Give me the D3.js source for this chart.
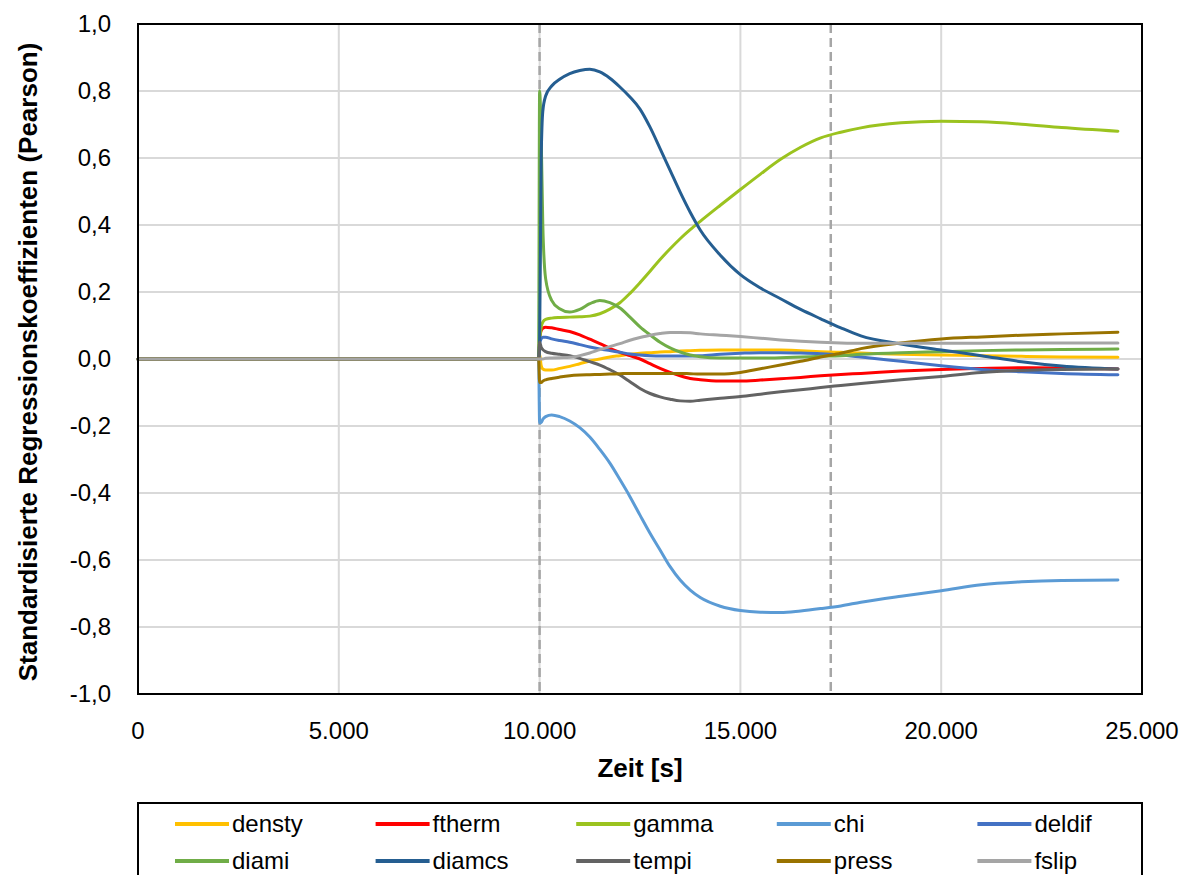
<!DOCTYPE html>
<html>
<head>
<meta charset="utf-8">
<script src="https://cdn.jsdelivr.net/npm/d3@7"></script>
<style>
  html, body { margin: 0; padding: 0; background: #fff; }
  svg { display: block; font-family: "Liberation Sans", Arial, sans-serif; }
</style>
</head>
<body>
<svg id="chart" width="1191" height="875"></svg>
<script>
// time axis shared by all series (seconds)
var times = [0, 9975, 10000, 10040, 10080, 10150, 10300, 10500, 10750, 11000, 11250, 11500,
  11750, 12000, 12250, 12500, 12750, 13000, 13250, 13500, 13750, 14000, 14500, 15000,
  15500, 16000, 16500, 17000, 17500, 18000, 19000, 20000, 21000, 22000, 23000, 24400];

var densty = [0, 0, 0.015, -0.02, -0.03, -0.033, -0.033, -0.028, -0.022, -0.014, -0.006, 0.0,
  0.006, 0.01, 0.014, 0.017, 0.019, 0.021, 0.022, 0.024, 0.025, 0.026, 0.027, 0.027,
  0.027, 0.027, 0.025, 0.022, 0.02, 0.018, 0.014, 0.012, 0.01, 0.008, 0.006, 0.005];
var ftherm = [0, 0, 0.06, 0.085, 0.092, 0.095, 0.093, 0.088, 0.082, 0.072, 0.059, 0.046,
  0.032, 0.02, 0.01, 0.0, -0.014, -0.028, -0.04, -0.05, -0.058, -0.062, -0.066, -0.066,
  -0.063, -0.059, -0.055, -0.05, -0.046, -0.043, -0.036, -0.031, -0.028, -0.026, -0.027, -0.03];
var gamma = [0, 0, 0.05, 0.095, 0.11, 0.118, 0.122, 0.124, 0.125, 0.126, 0.128, 0.135,
  0.149, 0.168, 0.196, 0.228, 0.262, 0.297, 0.329, 0.359, 0.386, 0.411, 0.459, 0.506,
  0.552, 0.596, 0.632, 0.66, 0.677, 0.69, 0.705, 0.71, 0.708, 0.701, 0.691, 0.68];
var chi = [0, 0, -0.19, -0.19, -0.18, -0.172, -0.167, -0.172, -0.185, -0.205, -0.233, -0.27,
  -0.311, -0.36, -0.411, -0.466, -0.52, -0.57, -0.62, -0.66, -0.69, -0.712, -0.738, -0.751,
  -0.756, -0.757, -0.752, -0.745, -0.737, -0.726, -0.708, -0.692, -0.674, -0.665, -0.661, -0.66];
var deldif = [0, 0, 0.045, 0.06, 0.065, 0.065, 0.06, 0.055, 0.05, 0.043, 0.036, 0.03,
  0.025, 0.02, 0.015, 0.012, 0.01, 0.009, 0.009, 0.009, 0.009, 0.01, 0.014, 0.017,
  0.019, 0.019, 0.018, 0.016, 0.012, 0.006, -0.007, -0.02, -0.031, -0.038, -0.043, -0.047];
var diami = [0, 0, 0.8, 0.66, 0.4, 0.24, 0.175, 0.15, 0.14, 0.148, 0.165, 0.175,
  0.168, 0.152, 0.125, 0.096, 0.072, 0.05, 0.033, 0.021, 0.012, 0.007, 0.003, 0.003,
  0.003, 0.004, 0.006, 0.008, 0.01, 0.014, 0.019, 0.022, 0.025, 0.027, 0.028, 0.03];
var diamcs = [0, 0, 0.05, 0.6, 0.74, 0.785, 0.815, 0.835, 0.852, 0.861, 0.865, 0.857,
  0.838, 0.812, 0.782, 0.746, 0.692, 0.628, 0.563, 0.498, 0.438, 0.385, 0.31, 0.252,
  0.212, 0.18, 0.148, 0.12, 0.093, 0.069, 0.045, 0.027, 0.01, -0.008, -0.021, -0.03];
var tempi = [0, 0, 0.05, 0.035, 0.028, 0.022, 0.017, 0.014, 0.01, 0.002, -0.008, -0.018,
  -0.032, -0.048, -0.068, -0.088, -0.103, -0.113, -0.12, -0.125, -0.126, -0.123, -0.117, -0.112,
  -0.105, -0.098, -0.092, -0.085, -0.079, -0.073, -0.062, -0.052, -0.04, -0.034, -0.031, -0.03];
var press = [0, 0, -0.07, -0.07, -0.066, -0.062, -0.058, -0.054, -0.05, -0.048, -0.047, -0.046,
  -0.045, -0.044, -0.043, -0.043, -0.043, -0.043, -0.043, -0.043, -0.044, -0.045, -0.045, -0.04,
  -0.029, -0.018, -0.007, 0.006, 0.017, 0.031, 0.048, 0.06, 0.066, 0.071, 0.075, 0.08];
var fslip = [0, 0, 0, 0, 0, 0.002, 0.003, 0.004, 0.005, 0.01, 0.018, 0.028,
  0.037, 0.046, 0.056, 0.064, 0.071, 0.076, 0.079, 0.079, 0.078, 0.075, 0.071, 0.067,
  0.062, 0.057, 0.053, 0.05, 0.048, 0.047, 0.047, 0.047, 0.047, 0.048, 0.048, 0.048];

var seriesNames = ["densty", "ftherm", "gamma", "chi", "deldif", "diami", "diamcs", "tempi", "press", "fslip"];
var seriesValues = [densty, ftherm, gamma, chi, deldif, diami, diamcs, tempi, press, fslip];
var seriesColors = ["#FFC000", "#FF0000", "#9BC31F", "#5B9BD5", "#4472C4",
  "#70AD47", "#255E91", "#636363", "#997300", "#A5A5A5"];

var xTicks = [0, 5000, 10000, 15000, 20000, 25000];
var yTicks = [-1, -0.8, -0.6, -0.4, -0.2, 0, 0.2, 0.4, 0.6, 0.8, 1];
var markerTimes = [10000, 17250];

var svg = d3.select("#chart");
var m = { left: 138, top: 24, right: 1142, bottom: 694 };

var x = d3.scaleLinear().domain([0, 25000]).range([m.left, m.right]);
var y = d3.scaleLinear().domain([-1, 1]).range([m.bottom, m.top]);

var fmtX = function (d) { return d3.format(",")(d).replace(/,/g, "."); };
var fmtY = function (d) { return d3.format(".1f")(d).replace(".", ",").replace("−", "-"); };

// grid
svg.append("g").selectAll("line.h").data(yTicks).enter().append("line")
  .attr("x1", m.left).attr("x2", m.right)
  .attr("y1", function (d) { return y(d); }).attr("y2", function (d) { return y(d); })
  .attr("stroke", "#D9D9D9").attr("stroke-width", 2);
svg.append("g").selectAll("line.v").data(xTicks).enter().append("line")
  .attr("x1", function (d) { return x(d); }).attr("x2", function (d) { return x(d); })
  .attr("y1", m.top).attr("y2", m.bottom)
  .attr("stroke", "#D9D9D9").attr("stroke-width", 2);

// dashed markers
svg.append("g").selectAll("line").data(markerTimes).enter().append("line")
  .attr("x1", function (d) { return x(d); }).attr("x2", function (d) { return x(d); })
  .attr("y1", m.top).attr("y2", m.bottom)
  .attr("stroke", "#A6A6A6").attr("stroke-width", 2.5)
  .attr("stroke-dasharray", "9 5");

// series
var line = d3.line()
  .x(function (d) { return x(d[0]); })
  .y(function (d) { return y(d[1]); })
  .curve(d3.curveMonotoneX);

seriesNames.forEach(function (name, i) {
  var pts = times.map(function (t, j) { return [t, seriesValues[i][j]]; });
  svg.append("path")
    .datum(pts)
    .attr("d", line)
    .attr("fill", "none")
    .attr("stroke", seriesColors[i])
    .attr("stroke-width", 3)
    .attr("stroke-linejoin", "round")
    .attr("stroke-linecap", "round");
});

// plot border
svg.append("rect")
  .attr("x", m.left).attr("y", m.top)
  .attr("width", m.right - m.left).attr("height", m.bottom - m.top)
  .attr("fill", "none").attr("stroke", "#000").attr("stroke-width", 2);

// tick labels
svg.append("g").selectAll("text").data(yTicks).enter().append("text")
  .attr("x", 111).attr("y", function (d) { return y(d); })
  .attr("dy", "0.35em").attr("text-anchor", "end")
  .attr("font-size", 24).attr("fill", "#000")
  .text(fmtY);
svg.append("g").selectAll("text").data(xTicks).enter().append("text")
  .attr("x", function (d) { return x(d); }).attr("y", 731)
  .attr("dy", "0.35em").attr("text-anchor", "middle")
  .attr("font-size", 24).attr("fill", "#000")
  .text(fmtX);

// axis titles
svg.append("text")
  .attr("x", 640).attr("y", 768).attr("dy", "0.35em")
  .attr("text-anchor", "middle").attr("font-size", 26).attr("font-weight", "bold")
  .text("Zeit [s]");
svg.append("text")
  .attr("transform", "translate(28,362) rotate(-90)")
  .attr("dy", "0.35em")
  .attr("text-anchor", "middle").attr("font-size", 26).attr("font-weight", "bold")
  .text("Standardisierte Regressionskoeffizienten (Pearson)");

// legend
svg.append("rect")
  .attr("x", 138).attr("y", 803).attr("width", 1004).attr("height", 100)
  .attr("fill", "#fff").attr("stroke", "#000").attr("stroke-width", 2);

var leg = svg.append("g").selectAll("g").data(seriesNames).enter().append("g")
  .attr("transform", function (d, i) {
    return "translate(" + (175 + (i % 5) * 200.6) + "," + (i < 5 ? 824 : 861) + ")";
  });
leg.append("line")
  .attr("x1", 0).attr("x2", 54).attr("y1", 0).attr("y2", 0)
  .attr("stroke", function (d, i) { return seriesColors[i]; })
  .attr("stroke-width", 4);
leg.append("text")
  .attr("x", 57).attr("y", 0).attr("dy", "0.35em")
  .attr("font-size", 24).attr("fill", "#000")
  .text(function (d) { return d; });
</script>
</body>
</html>
